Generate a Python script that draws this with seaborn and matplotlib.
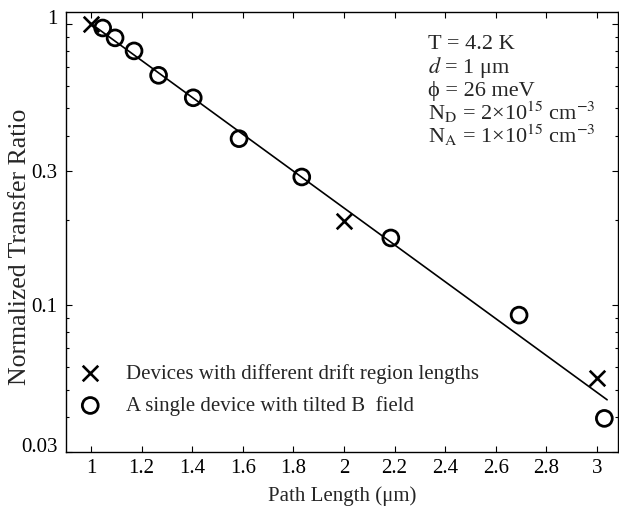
import numpy as np
import pandas as pd
import matplotlib
matplotlib.use("Agg")
import matplotlib.pyplot as plt
import seaborn as sns
from matplotlib.ticker import FixedLocator, FixedFormatter, LogLocator, NullFormatter

# ---- data ----
device_length = [1.0, 2.0, 3.0]
device_ratio = [1.0, 0.199, 0.055]

tilt_length = [1.046, 1.095, 1.17, 1.267, 1.404, 1.585, 1.833, 2.185, 2.692, 3.029]
tilt_ratio = [0.965, 0.89, 0.80, 0.655, 0.545, 0.39, 0.285, 0.173, 0.092, 0.0395]

fit_length = [1.0, 3.04]
fit_ratio = [1.0, 0.046]

x_ticks = [1.0, 1.2, 1.4, 1.6, 1.8, 2.0, 2.2, 2.4, 2.6, 2.8, 3.0]
x_tick_labels = ["1", "1.2", "1.4", "1.6", "1.8", "2", "2.2", "2.4", "2.6", "2.8", "3"]
y_ticks = [0.03, 0.1, 0.3, 1.0]
y_tick_labels = ["0.03", "0.1", "0.3", "1"]

label_devices = "Devices with different drift region lengths"
label_tilt = "A single device with tilted B  field"

param_lines = [
    "T = 4.2 K",
    r"$d$ = 1 μm",
    "ϕ = 26 meV",
    r"N$_\mathrm{D}$ = 2×10$^{15}$ cm$^{-3}$",
    r"N$_\mathrm{A}$ = 1×10$^{15}$ cm$^{-3}$",
]

# ---- styling ----
sns.set_theme(style="ticks")
plt.rcParams["font.family"] = ["Liberation Serif", "DejaVu Serif"]
plt.rcParams["mathtext.fontset"] = "stix"
plt.rcParams["axes.edgecolor"] = "black"
plt.rcParams["axes.linewidth"] = 1.0

W, H = 619, 516
fig = plt.figure(figsize=(W / 100, H / 100), dpi=100)
ax = fig.add_axes([66 / W, 1 - 452 / H, 552 / W, 440 / H])

sns.lineplot(x=fit_length, y=fit_ratio, ax=ax, color="black", linewidth=1.2,
             legend=False)
sns.scatterplot(x=device_length, y=device_ratio, ax=ax, marker="x", s=125,
                color="black", linewidth=1.9, label=label_devices, zorder=3)
sns.scatterplot(x=tilt_length, y=tilt_ratio, ax=ax, marker="o", s=130,
                facecolors="none", edgecolor="black", linewidth=2.0,
                label=label_tilt, zorder=3)

ax.set_yscale("log")
ax.set_xlim(0.901, 3.083)
ax.set_ylim(0.03, 1.1)

ax.xaxis.set_major_locator(FixedLocator(x_ticks))
ax.xaxis.set_major_formatter(FixedFormatter(x_tick_labels))
ax.yaxis.set_major_locator(FixedLocator(y_ticks))
ax.yaxis.set_major_formatter(FixedFormatter(y_tick_labels))
ax.yaxis.set_minor_locator(LogLocator(base=10, subs=np.arange(2, 10)))
ax.yaxis.set_minor_formatter(NullFormatter())

ax.tick_params(which="both", direction="in", top=True, right=True,
               colors="black", labelsize=15, width=0.8)
ax.tick_params(which="major", length=4.5)
ax.tick_params(axis="x", which="major", pad=5)
ax.tick_params(axis="y", which="major", pad=6)
ax.tick_params(which="minor", length=2.5)

ax.set_xlabel("Path Length (μm)", fontsize=15, labelpad=6)
ax.set_ylabel("Normalized Transfer Ratio", fontsize=18.5)
ax.yaxis.set_label_coords(-0.0625, 0.466)

for i, line in enumerate(param_lines):
    ax.text(0.656, 0.916 - i * 0.0535, line, transform=ax.transAxes,
            fontsize=16, ha="left", va="baseline")

leg = ax.legend(loc="lower left", bbox_to_anchor=(0.01, 0.063), frameon=False,
                fontsize=15, handlelength=1.0, handletextpad=1.2,
                labelspacing=0.6, borderaxespad=0)

ylabels = ax.get_yticklabels()
ylabels[0].set_verticalalignment("baseline")
ylabels[-1].set_verticalalignment("baseline")

fig.savefig("out.png", dpi=100)
